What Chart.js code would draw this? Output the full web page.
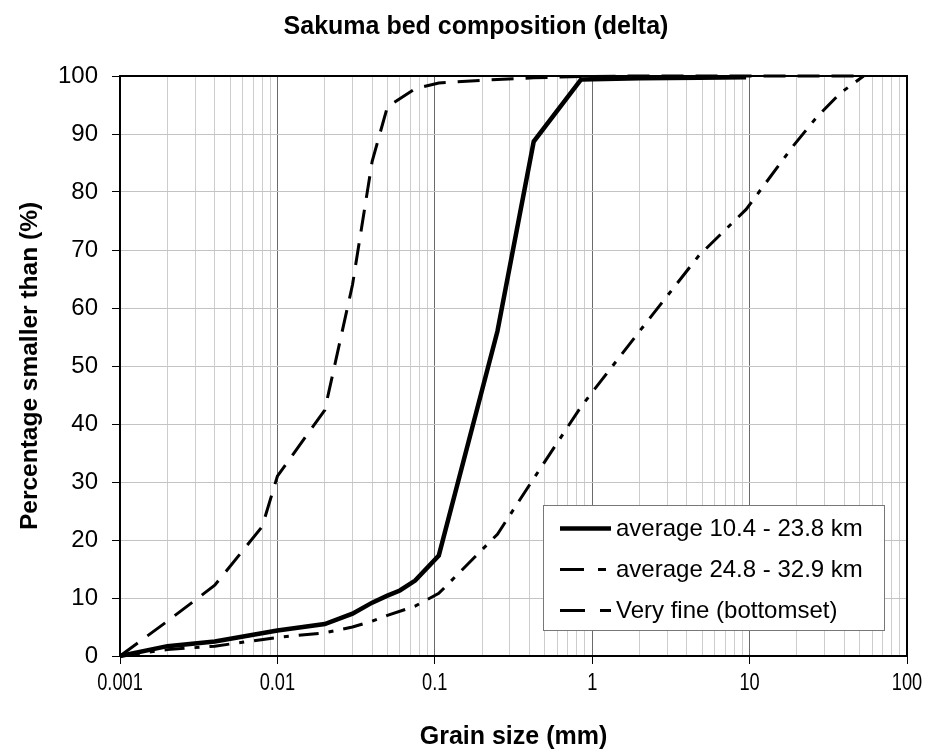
<!DOCTYPE html>
<html>
<head>
<meta charset="utf-8">
<script src="https://cdn.jsdelivr.net/npm/chart.js@4"></script>
<style>
  html, body { margin: 0; padding: 0; background: #fff; }
  #wrap { width: 935px; height: 753px; }
</style>
</head>
<body>
<div id="wrap"><canvas id="gsd" width="935" height="753"></canvas></div>
<script>
// grain size (mm) vs cumulative % finer, one pair of arrays per sample group
const sizesUpper = [0.001, 0.002, 0.004, 0.01, 0.02, 0.03, 0.04, 0.05, 0.06, 0.075, 0.106, 0.25, 0.425, 0.85, 2, 4.75, 9.5];
const finerUpper = [0, 1.7, 2.5, 4.4, 5.5, 7.3, 9.2, 10.4, 11.3, 13, 17.3, 56, 88.7, 99.4, 99.6, 99.7, 99.8];

const sizesLower = [0.001, 0.002, 0.004, 0.01, 0.02, 0.03, 0.04, 0.05, 0.075, 0.106, 0.25, 0.425, 0.85, 2, 4.75, 9.5, 19, 26.5, 37.5, 53];
const finerLower = [0, 1.1, 1.7, 3.2, 4.0, 5.0, 6.0, 7.0, 8.6, 10.8, 21, 30.6, 43, 56, 69, 77, 88, 92.8, 97, 100];

const sizesFine = [0.001, 0.002, 0.004, 0.008, 0.01, 0.02, 0.03, 0.04, 0.05, 0.075, 0.106, 0.25, 0.425, 0.85, 2, 4.75, 9.5, 19, 37.5, 53];
const finerFine = [0, 6, 12.2, 22.3, 31, 42.4, 64, 85.3, 94.7, 97.8, 98.8, 99.4, 99.7, 99.9, 100, 100, 100, 100, 100, 100];

const seriesNames = ['average 10.4 - 23.8 km', 'average 24.8 - 32.9 km', 'Very fine (bottomset)'];
const xTickValues = [0.001, 0.01, 0.1, 1, 10, 100];
const xTickLabels = ['0.001', '0.01', '0.1', '1', '10', '100'];

const FONT = 'Liberation Sans, Arial, sans-serif';

function pts(xs, ys) {
    return xs.map((x, i) => ({ x: x, y: ys[i] }));
}

// mantissa of a log tick, 1 means a decade line
function mant(v) {
    return v / Math.pow(10, Math.floor(Math.log10(v) + 1e-9));
}
function isDecade(v) {
    return Math.abs(mant(v) - 1) < 1e-6;
}

// plot frame on all four sides
const framePlugin = {
    id: 'frame',
    beforeDatasetsDraw(chart) {
        const { ctx, chartArea: a } = chart;
        ctx.save();
        ctx.strokeStyle = '#000';
        ctx.lineWidth = 2;
        ctx.strokeRect(a.left, a.top, a.right - a.left, a.bottom - a.top);
        ctx.restore();
    }
};

const titlePlugin = {
    id: 'topTitle',
    afterDraw(chart) {
        const ctx = chart.ctx;
        ctx.save();
        ctx.fillStyle = '#000';
        ctx.font = 'bold 25px ' + FONT;
        ctx.textAlign = 'center';
        ctx.textBaseline = 'middle';
        ctx.fillText('Sakuma bed composition (delta)', 476, 27);
        ctx.restore();
    }
};

// decade labels under the log axis, squeezed sideways
const xLabels = {
    id: 'xLabels',
    afterDraw(chart) {
        const ctx = chart.ctx;
        const xs = chart.scales.x;
        const y = chart.chartArea.bottom + 27;
        ctx.save();
        ctx.fillStyle = '#000';
        ctx.font = '24px ' + FONT;
        ctx.textAlign = 'center';
        ctx.textBaseline = 'middle';
        xTickValues.forEach((v, i) => {
            ctx.save();
            ctx.translate(xs.getPixelForValue(v), y);
            ctx.scale(0.76, 1);
            ctx.fillText(xTickLabels[i], 0, 0);
            ctx.restore();
        });
        ctx.restore();
    }
};

// boxed legend sitting inside the plot, bottom right
const boxLegend = {
    id: 'boxLegend',
    afterDraw(chart) {
        const ctx = chart.ctx;
        const bx = 543.5, by = 505.5, bw = 341, bh = 125;
        ctx.save();
        ctx.fillStyle = '#fff';
        ctx.fillRect(bx, by, bw, bh);
        ctx.strokeStyle = '#777';
        ctx.lineWidth = 1;
        ctx.strokeRect(bx, by, bw, bh);
        chart.data.datasets.forEach((ds, i) => {
            const y = by + 23 + i * 41;
            ctx.strokeStyle = ds.borderColor;
            ctx.lineWidth = ds.borderWidth;
            ctx.setLineDash(ds.legendDash || []);
            ctx.lineCap = 'butt';
            ctx.beginPath();
            ctx.moveTo(560, y);
            ctx.lineTo(611, y);
            ctx.stroke();
            ctx.setLineDash([]);
            ctx.fillStyle = '#000';
            ctx.font = '24px ' + FONT;
            ctx.textAlign = 'left';
            ctx.textBaseline = 'middle';
            ctx.fillText(ds.label, 616, y + 1);
        });
        ctx.restore();
    }
};

new Chart(document.getElementById('gsd'), {
    type: 'line',
    data: {
        datasets: [
            {
                label: seriesNames[0],
                data: pts(sizesUpper, finerUpper),
                borderColor: '#000',
                borderWidth: 4.5,
                legendDash: [],
                pointRadius: 0,
                tension: 0,
                clip: false
            },
            {
                label: seriesNames[1],
                data: pts(sizesLower, finerLower),
                borderColor: '#000',
                borderWidth: 3,
                borderDash: [20, 10, 5, 10],
                legendDash: [24, 14, 8, 14],
                pointRadius: 0,
                tension: 0,
                clip: false
            },
            {
                label: seriesNames[2],
                data: pts(sizesFine, finerFine),
                borderColor: '#000',
                borderWidth: 3,
                borderDash: [22, 12],
                legendDash: [25, 15],
                pointRadius: 0,
                tension: 0,
                clip: false
            }
        ]
    },
    options: {
        responsive: false,
        animation: false,
        events: [],
        layout: { padding: { left: 0, right: 28, top: 76, bottom: 0 } },
        plugins: {
            legend: { display: false },
            title: { display: false },
            tooltip: { enabled: false }
        },
        scales: {
            x: {
                type: 'logarithmic',
                position: 'bottom',
                min: 0.001,
                max: 100,
                afterBuildTicks: (s) => {
                    s.ticks = s.ticks.filter(t => Math.abs(mant(t.value) - Math.round(mant(t.value))) < 1e-6);
                },
                afterFit: (s) => { s.height = 97; },
                grid: {
                    color: (c) => (c.tick && isDecade(c.tick.value)) ? '#6a6a6a' : '#cdcdcd',
                    lineWidth: 1,
                    tickLength: 8,
                    tickColor: (c) => (c.tick && isDecade(c.tick.value)) ? '#000' : 'rgba(0,0,0,0)'
                },
                border: { color: '#000', width: 2 },
                ticks: {
                    display: false,
                    autoSkip: false
                },
                title: {
                    display: true,
                    text: 'Grain size (mm)',
                    color: '#000',
                    font: { family: FONT, size: 25, weight: 'bold' },
                    padding: { top: 0, bottom: 1 }
                }
            },
            y: {
                min: 0,
                max: 100,
                afterFit: (s) => { s.width = 120; },
                grid: {
                    color: '#c4c4c4',
                    lineWidth: 1,
                    tickLength: 8,
                    tickColor: '#000'
                },
                border: { color: '#000', width: 2 },
                ticks: {
                    stepSize: 10,
                    padding: 14,
                    color: '#000',
                    font: { family: FONT, size: 24 }
                },
                title: {
                    display: true,
                    text: 'Percentage smaller than (%)',
                    color: '#000',
                    font: { family: FONT, size: 24.5, weight: 'bold' },
                    padding: { top: 16, bottom: 0 }
                }
            }
        }
    },
    plugins: [framePlugin, titlePlugin, xLabels, boxLegend]
});
</script>
</body>
</html>
